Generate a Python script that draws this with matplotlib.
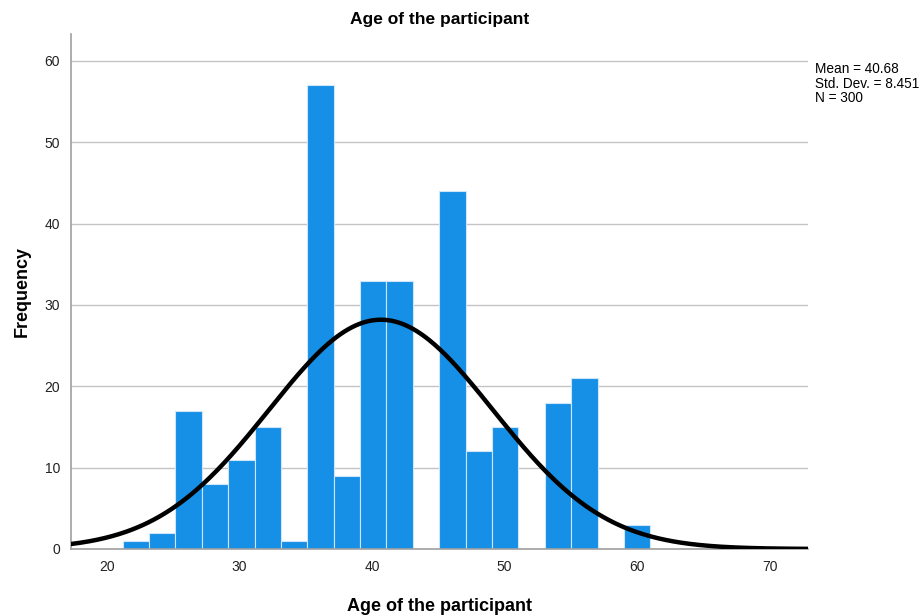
import numpy as np
import matplotlib
matplotlib.use("Agg")
import matplotlib.pyplot as plt

plt.rcParams['font.family'] = ['Liberation Sans', 'DejaVu Sans']

# histogram of ages (SPSS style)
bin_start = 21.2
bin_width = 1.99
counts = [1, 2, 17, 8, 11, 15, 1, 57, 9, 33, 33, 0, 44, 12, 15, 0, 18, 21, 0, 3]
mean = 40.68
std = 8.451
n = 300
x_ticks = [20, 30, 40, 50, 60, 70]
y_ticks = [0, 10, 20, 30, 40, 50, 60]

edges = bin_start + bin_width * np.arange(len(counts) + 1)

fig = plt.figure(figsize=(9.23, 6.16), dpi=100)
ax = fig.add_axes([71 / 923, 67 / 616, (808 - 71) / 923, (549 - 34) / 616])

ax.bar(edges[:-1], counts, width=bin_width, align='edge', color='#1590e6',
       edgecolor='#cfe6fa', linewidth=0.8, zorder=2)

xs = np.linspace(17.3, 72.9, 400)
pdf = np.exp(-0.5 * ((xs - mean) / std) ** 2) / (std * np.sqrt(2 * np.pi))
ax.plot(xs, n * bin_width * pdf, color='black', lw=3.2, zorder=3)

ax.set_xlim(17.3, 72.9)
ax.set_ylim(0, 63.3)
ax.set_xticks(x_ticks)
ax.set_yticks(y_ticks)
ax.tick_params(length=0, labelsize=10, colors='#222222', pad=8)
ax.yaxis.grid(True, color='#c4c4c4', lw=1, zorder=0)
ax.set_axisbelow(True)
for s in ['top', 'right']:
    ax.spines[s].set_visible(False)
for s in ['left', 'bottom']:
    ax.spines[s].set_color('#a0a0a0')
    ax.spines[s].set_linewidth(1.2)

ax.set_title('Age of the participant', fontsize=12.5, fontweight='bold', pad=7)
ax.set_xlabel('Age of the participant', fontsize=13, fontweight='bold', labelpad=17)
ax.set_ylabel('Frequency', fontsize=13, fontweight='bold', labelpad=10)

fig.text(815 / 923, 1 - 62 / 616,
         'Mean = %.2f\nStd. Dev. = %.3f\nN = %d' % (mean, std, n),
         fontsize=9.8, va='top', ha='left', linespacing=1.05)

fig.savefig('out.png', dpi=100)
